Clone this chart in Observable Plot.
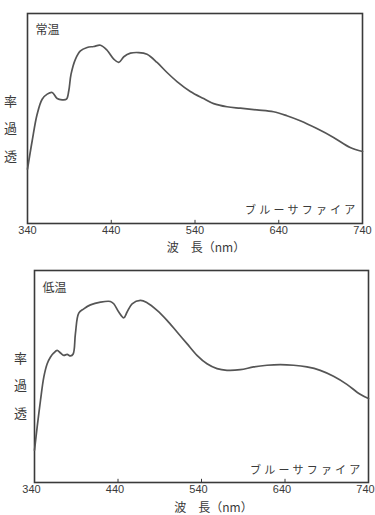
<!DOCTYPE html>
<html><head><meta charset="utf-8">
<script src="https://cdn.jsdelivr.net/npm/d3@7"></script>
<script src="https://cdn.jsdelivr.net/npm/@observablehq/plot@0.6"></script>
<style>
body{margin:0;background:#fff;}
#c svg{display:block;overflow:visible;}
</style>
</head><body><div id="c"></div>
<script>
// ---- data ----
const xTicks = [340, 440, 540, 640, 740];
const xLabel = "波　長（nm）";
const yLabel = "透過率";
const sampleLabel = "ブルーサファイア";

const roomLabel = "常温";
const roomWl = [340,345.6,351.5,357.5,363.5,369.4,375.4,381.4,386.5,389.3,392,397.3,403.2,411.2,419.1,427.1,435,443,449,455,462.9,472.8,482.7,494.7,506.6,518.5,534.4,550.3,562.3,578.2,594.1,613.9,633.8,649.7,665.6,685.5,705.4,725.3,740];
const roomT  = [25.9,39.4,52,59.2,61.6,62.4,59.5,58.9,59.2,63.2,71.1,78.3,82.2,83.8,84.3,84.9,82.5,78.3,76.7,79.4,81.1,81.4,80.6,76.7,71.9,67.6,62.9,59.5,57.1,55.6,54.9,54.1,53.2,51.3,48.9,45.2,41,36.2,34.3];

const lowLabel = "低温";
const lowWl = [340,343.2,347.2,351.2,355.2,359.2,363.1,367.1,371.1,375.1,379.1,383.1,386.3,389,393,399,407,419,430.9,434.9,440.9,446.9,450.9,456.9,466.8,474.8,486.8,498.7,510.7,522.6,534.6,546.6,558.6,570.5,586.5,602.4,618.4,634.3,650.3,666.2,682.2,698.1,714.1,730,740];
const lowT  = [15.2,26.2,38.8,49.8,56,59.2,61.1,62.3,61.1,60,60.4,59.7,60.6,70.2,79.9,81.9,83.8,85.1,85.4,84.3,80.4,77.7,80.4,84.3,85.9,84.8,81.2,76.5,71,65.5,60,56,53.7,52.9,53.2,54.5,55.3,55.6,55.3,54.5,52.9,50.1,46.3,41.6,39.6];

const jpFont = "'Noto Sans CJK JP', sans-serif";
const numFont = "'Liberation Sans', 'DejaVu Sans', sans-serif";
const ink = "#3a3a3a";

function chart(cfg) {
  const data = cfg.wl.map((w, i) => ({w, t: cfg.t[i]}));
  const p = Plot.plot({
    width: 375, height: cfg.height,
    marginLeft: cfg.ml, marginRight: cfg.mr, marginTop: cfg.mt, marginBottom: cfg.mb,
    style: {background: "transparent", color: ink, fontFamily: numFont},
    x: {domain: [340, 740]},
    y: {domain: [0, 100], axis: null},
    marks: [
      Plot.axisX({ticks: xTicks, tickSize: 0, tickPadding: 3, fontSize: 11, label: null, tickFormat: d => String(d), fill: ink, dx: cfg.axDx}),
      Plot.ruleX(xTicks.slice(1, -1), {y1: 0, y2: 1.5, stroke: ink, strokeWidth: 1}),
      Plot.frame({stroke: ink, strokeWidth: 1.6}),
      Plot.line(data, {x: "w", y: "t", curve: "catmull-rom", stroke: "#555", strokeWidth: 1.7}),
      Plot.text([cfg.label], {frameAnchor: "top-left", textAnchor: "start", lineAnchor: "top", dx: 8, dy: cfg.labelDy, fontSize: 12, fontFamily: jpFont, fill: ink}),
      Plot.text([sampleLabel], {frameAnchor: "bottom-right", textAnchor: "end", lineAnchor: "bottom", dx: cfg.sDx, dy: cfg.sDy, fontSize: 11, fontFamily: jpFont, fill: ink, className: "sample"}),
      Plot.text([yLabel.split("").reverse().join("\n")], {frameAnchor: "left", textAnchor: "middle", lineAnchor: "middle", dx: cfg.yDx, dy: cfg.yDy, fontSize: 13, lineHeight: 2.1, fontFamily: jpFont, fill: ink}),
      Plot.text([xLabel], {frameAnchor: "bottom", textAnchor: "middle", lineAnchor: "middle", dx: cfg.tDx, dy: cfg.tDy, fontSize: 12, fontFamily: jpFont, fill: ink})
    ]
  });
  d3.select(p).selectAll(".sample text").attr("letter-spacing", "3.2px");
  return p;
}

const c = document.getElementById("c");
c.appendChild(chart({wl: roomWl, t: roomT, label: roomLabel, height: 255, ml: 27, mr: 13, mt: 13, mb: 32, labelDy: 12, sDx: -4, sDy: -10, yDx: -17, yDy: 6, tDx: 11, tDy: 25, axDx: 0}));
c.appendChild(chart({wl: lowWl, t: lowT, label: lowLabel, height: 260, ml: 34, mr: 7, mt: 15, mb: 33, labelDy: 13, sDx: -5, sDy: -9, yDx: -14, yDy: 5, tDx: 12, tDy: 26, axDx: -3}));
</script>
</body></html>
